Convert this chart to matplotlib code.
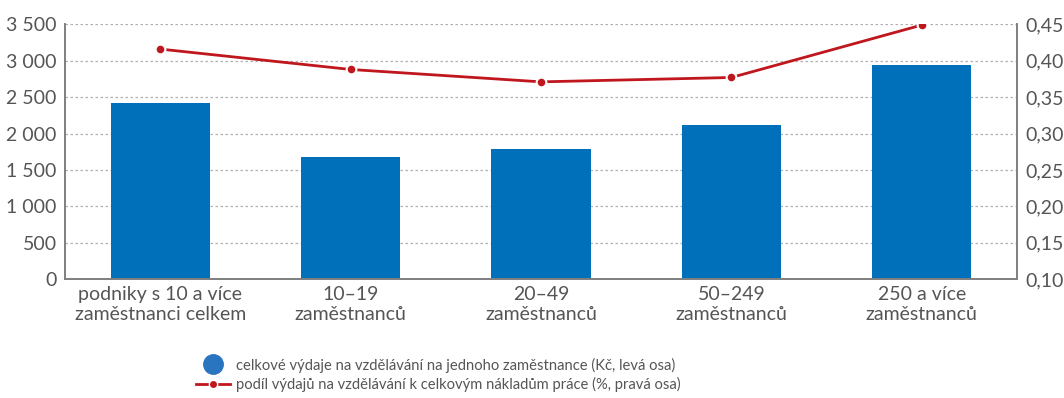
import numpy as np
import matplotlib.pyplot as plt
from matplotlib.lines import Line2D
from matplotlib.ticker import FuncFormatter

plt.rcParams['font.family'] = ['Lato', 'DejaVu Sans']

categories = ['podniky s 10 a více\nzaměstnanci celkem', '10–19\nzaměstnanců', '20–49\nzaměstnanců',
              '50–249\nzaměstnanců', '250 a více\nzaměstnanců']
vydaje = [2420, 1680, 1790, 2120, 2940]
podil = [0.416, 0.388, 0.371, 0.377, 0.449]

bar_color = '#0070ba'
line_color = '#c0161e'
text_color = '#555555'
axis_color = '#7f7f7f'

fig = plt.figure(figsize=(10.64, 3.98), dpi=100)
ax = fig.add_axes([65/1064, 1 - 279.3/398, (1017-65)/1064, 255/398])
ax2 = ax.twinx()

x = np.arange(len(categories))
ax.bar(x, vydaje, width=0.52, color=bar_color, zorder=2)
ax.set_xlim(-0.5, 4.5)
ax.set_ylim(0, 3500)
ax.set_yticks(np.arange(0, 3501, 500))
ax.yaxis.set_major_formatter(FuncFormatter(lambda v, p: f'{int(v):,}'.replace(',', ' ')))
ax.grid(axis='y', color='#b0b0b0', linestyle=(0, (2, 2)), linewidth=0.9, zorder=0)
ax.set_axisbelow(True)
ax.set_xticks(x)
ax.set_xticklabels(categories, linespacing=1.2)

ax2.plot(x, podil, color=line_color, linewidth=2, marker='o', markersize=7,
         markeredgecolor='white', markeredgewidth=1.5, zorder=3)
ax2.set_ylim(0.10, 0.45)
ax2.set_yticks(np.arange(0.10, 0.451, 0.05))
ax2.yaxis.set_major_formatter(FuncFormatter(lambda v, p: f'{v:.2f}'.replace('.', ',')))

for a in (ax, ax2):
    a.spines['top'].set_visible(False)
    for s in ('left', 'right', 'bottom'):
        a.spines[s].set_color(axis_color)
        a.spines[s].set_linewidth(1.2)
    a.tick_params(length=0, labelsize=14, colors=text_color, pad=6)
ax.tick_params(axis='x', pad=5)

# legenda pod grafem
handles = [
    Line2D([], [], linestyle='none', marker='o', markersize=14, color='#2a75c0'),
    Line2D([], [], color=line_color, linewidth=2, marker='o', markersize=6,
           markeredgecolor='white', markeredgewidth=1),
]
labels = ['celkové výdaje na vzdělávání na jednoho zaměstnance (Kč, levá osa)',
          'podíl výdajů na vzdělávání k celkovým nákladům práce (%, pravá osa)']
fig.legend(handles, labels, loc='lower left', bbox_to_anchor=(190/1064, 0.0), frameon=False,
           fontsize=10.6, labelcolor=text_color, handlelength=2.3, handletextpad=0.4,
           labelspacing=0.3, borderaxespad=0)

fig.savefig('out.png', dpi=100)
